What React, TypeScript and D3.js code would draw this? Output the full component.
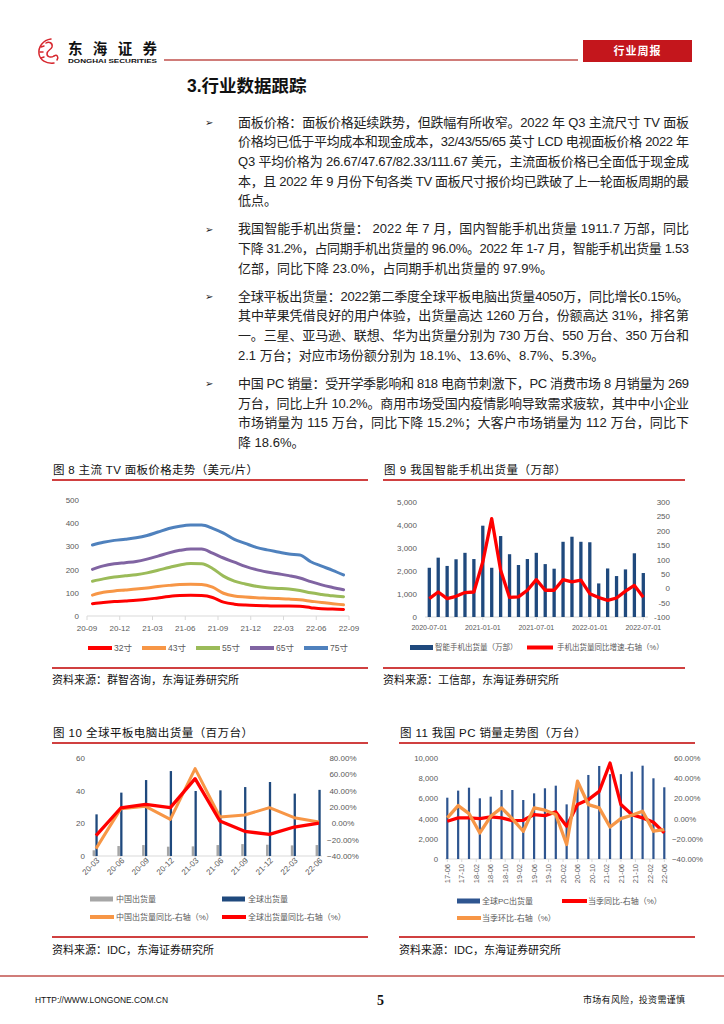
import React from "react";
import * as d3 from "d3";

const SANS = "'Liberation Sans', Arial, 'Noto Sans CJK SC', sans-serif";
const CJK = "'Noto Sans CJK SC', 'Liberation Sans', sans-serif";
const GRAY = "#595959";
const AXIS = "#D9D9D9";
const TITLE_RED = "#C00000";

// ---------------- body text ----------------
const para1 = [
  "面板价格：面板价格延续跌势，但跌幅有所收窄。2022 年 Q3 主流尺寸 TV 面板",
  "价格均已低于平均成本和现金成本，32/43/55/65 英寸 LCD 电视面板价格 2022 年",
  "Q3 平均价格为 26.67/47.67/82.33/111.67 美元，主流面板价格已全面低于现金成",
  "本，且 2022 年 9 月份下旬各类 TV 面板尺寸报价均已跌破了上一轮面板周期的最",
  "低点。",
];
const para2 = [
  "我国智能手机出货量： 2022 年 7 月，国内智能手机出货量 1911.7 万部，同比",
  "下降 31.2%，占同期手机出货量的 96.0%。2022 年 1-7 月，智能手机出货量 1.53",
  "亿部，同比下降 23.0%，占同期手机出货量的 97.9%。",
];
const para3 = [
  "全球平板出货量：2022第二季度全球平板电脑出货量4050万，同比增长0.15%。",
  "其中苹果凭借良好的用户体验，出货量高达 1260 万台，份额高达 31%，排名第",
  "一。三星、亚马逊、联想、华为出货量分别为 730 万台、550 万台、350 万台和",
  "2.1 万台；对应市场份额分别为 18.1%、13.6%、8.7%、5.3%。",
];
const para4 = [
  "中国 PC 销量：受开学季影响和 818 电商节刺激下，PC 消费市场 8 月销量为 269",
  "万台，同比上升 10.2%。商用市场受国内疫情影响导致需求疲软，其中中小企业",
  "市场销量为 115 万台，同比下降 15.2%；大客户市场销量为 112 万台，同比下",
  "降 18.6%。",
];

// ---------------- chart 8: TV panel prices ----------------
const tvMonths = [
  "2020-09", "2020-10", "2020-11", "2020-12", "2021-01", "2021-02", "2021-03", "2021-04",
  "2021-05", "2021-06", "2021-07", "2021-08", "2021-09", "2021-10", "2021-11", "2021-12",
  "2022-01", "2022-02", "2022-03", "2022-04", "2022-05", "2022-06", "2022-07", "2022-08",
];
const tvTickLabels = ["20-09", "20-12", "21-03", "21-06", "21-09", "21-12", "22-03", "22-06", "22-09"];
const tvYTicks = [0, 100, 200, 300, 400, 500];
const tvSizes = ["32寸", "43寸", "55寸", "65寸", "75寸"];
const tv32 = [53, 58, 62, 65, 68, 72, 78, 84, 88, 89, 88, 80, 60, 51, 47, 45, 44, 43, 43, 42, 36, 31, 30, 28];
const tv43 = [90, 102, 108, 112, 116, 121, 127, 132, 136, 137, 136, 124, 98, 86, 82, 79, 77, 75, 73, 70, 64, 58, 53, 48];
const tv55 = [150, 160, 168, 173, 178, 186, 197, 209, 220, 226, 225, 205, 172, 150, 138, 128, 122, 119, 116, 110, 100, 93, 87, 83];
const tv65 = [201, 216, 225, 230, 235, 245, 258, 272, 283, 289, 289, 271, 250, 232, 214, 200, 190, 182, 174, 164, 148, 134, 123, 113];
const tv75 = [306, 318, 326, 331, 337, 347, 362, 377, 387, 392, 392, 378, 357, 330, 313, 296, 285, 276, 267, 263, 234, 215, 197, 177];

// ---------------- chart 9: smartphone shipments ----------------
const phoneMonths = [
  "2020-07", "2020-08", "2020-09", "2020-10", "2020-11", "2020-12", "2021-01", "2021-02", "2021-03",
  "2021-04", "2021-05", "2021-06", "2021-07", "2021-08", "2021-09", "2021-10", "2021-11", "2021-12",
  "2022-01", "2022-02", "2022-03", "2022-04", "2022-05", "2022-06", "2022-07",
];
const phoneTickLabels = ["2020-07-01", "2021-01-01", "2021-07-01", "2022-01-01", "2022-07-01"];
const phoneLeftTicks = [0, 1000, 2000, 3000, 4000, 5000];
const phoneRightTicks = [-100, -50, 0, 50, 100, 150, 200, 250, 300];
const phoneShip = [2140, 2580, 2220, 2510, 2790, 2520, 3970, 2140, 3520, 2730, 2260, 2520, 2790, 2300, 2100, 3270, 3490, 3270, 3250, 1460, 2110, 1780, 2070, 2770, 1912];
const phoneYoY = [-36, -13, -36, -28, -15, -13, 92, 242, 63, -32, -30, -7, 30, -7, -7, 30, 22, 28, -19, -32, -42, -34, -10, 10, -31];
const phoneLegend = ["智能手机出货量（万部）", "手机出货量同比增速-右轴（%）"];

// ---------------- chart 10: tablets ----------------
const tabQuarters = ["20-03", "20-06", "20-09", "20-12", "21-03", "21-06", "21-09", "21-12", "22-03", "22-06"];
const tabLeftTicks = [0, 20, 40, 60];
const tabRightTicks = [-0.4, -0.2, 0, 0.2, 0.4, 0.6, 0.8];
const tabChina = [3.5, 6.1, 6.7, 5.7, 5.9, 6.7, 7.3, 6.9, 6.5, 6.7];
const tabGlobal = [25.5, 38.8, 46.5, 52.0, 39.8, 40.2, 42.2, 45.3, 38.2, 40.5];
const tabChinaYoY = [-0.31, 0.18, 0.208, 0.049, 0.67, 0.078, 0.102, 0.192, 0.069, 0.016];
const tabGlobalYoY = [-0.15, 0.188, 0.233, 0.192, 0.547, 0.029, -0.098, -0.135, -0.045, 0.0015];
const tabLegend = ["中国出货量", "全球出货量", "中国出货量同比-右轴（%）", "全球出货量同比-右轴（%）"];

// ---------------- chart 11: PC ----------------
const pcQuarters = [
  "2017-06", "2017-09", "2017-12", "2018-03", "2018-06", "2018-09", "2018-12", "2019-03", "2019-06",
  "2019-09", "2019-12", "2020-03", "2020-06", "2020-09", "2020-12", "2021-03", "2021-06", "2021-09",
  "2021-12", "2022-03", "2022-06",
];
const pcTickLabels = ["17-06", "17-10", "18-02", "18-06", "18-10", "19-02", "19-06", "19-10", "20-02", "20-06", "20-10", "21-02", "21-06", "21-10", "22-02", "22-06"];
const pcLeftTicks = [0, 2000, 4000, 6000, 8000, 10000];
const pcRightTicks = [-0.4, -0.2, 0, 0.2, 0.4, 0.6];
const pcShip = [6070, 6770, 7060, 6010, 6170, 6830, 6830, 5840, 6500, 7000, 7260, 5410, 7200, 8320, 9210, 8400, 8400, 8650, 9240, 7990, 7100];
const pcYoY = [-0.026, 0.007, 0.007, 0.0, 0.017, 0.007, -0.02, -0.017, 0.04, 0.03, 0.066, -0.076, 0.139, 0.188, 0.27, 0.55, 0.139, 0.04, 0.007, -0.036, -0.142];
const pcQoQ = [0.007, 0.129, 0.05, -0.142, 0.023, 0.106, -0.003, -0.125, 0.106, 0.083, 0.04, -0.257, 0.37, 0.139, 0.106, -0.083, 0.0, 0.033, 0.073, -0.125, -0.109];
const pcLegend = ["全球PC出货量", "当季同比-右轴（%）", "当季环比-右轴（%）"];

const fmtThousands = d3.format(",");
const fmtPct = (v: number) => d3.format(".2f")(v * 100) + "%";
const monthIndex = (s: string, base: string) => {
  const [y, m] = s.split("-").map(Number);
  const [by, bm] = base.split("-").map(Number);
  const yy = y < 100 ? 2000 + y : y;
  const bb = by < 100 ? 2000 + by : by;
  return (yy - bb) * 12 + (m - bm);
};

// ---------------- pieces ----------------
function Header() {
  return (
    <g>
      <g fill="none" stroke="#D7282F" strokeWidth={1.5} strokeLinecap="round">
        <path d="M51 39 C43 40 38 47 39 54 C40 60 46 64 54 63" />
        <path d="M46 43 C49 41 53 43 52 47 C51 50 47 50 47 54 C47 57 51 58 54 56" />
        <path d="M54 56 C57 54 59 57 57 60" />
        <path d="M41 47 L44 46 M40 52 L43 52 M41 58 L44 57" />
      </g>
      <text x={68} y={53.5} fontFamily={CJK} fontWeight={700} fontSize={14.5} textLength={89} lengthAdjust="spacing" fill="#111">东海证券</text>
      <text x={68} y={63} fontWeight={700} fontSize={5.4} textLength={89} lengthAdjust="spacingAndGlyphs" fill="#111">DONGHAI SECURITIES</text>
      <line x1={164} x2={578} y1={60} y2={60} stroke="#C0504D" strokeWidth={1.3} />
      <rect x={583} y={40} width={109} height={22} fill="#C4161C" />
      <text x={637.5} y={55} textAnchor="middle" fontFamily={CJK} fontSize={11} fontWeight={700} fill="#fff" letterSpacing={1}>行业周报</text>
      <text x={187} y={92} fontFamily={SANS} fontWeight={700} fontSize={17.5} fill="#111">3.行业数据跟踪</text>
    </g>
  );
}

function Body() {
  const paras = [para1, para2, para3, para4];
  const L = 19.7;
  const G = 28;
  let y = 122;
  const out: JSX.Element[] = [];
  paras.forEach((p, pi) => {
    p.forEach((line, li) => {
      const last = li === p.length - 1;
      if (li === 0) {
        out.push(
          <text key={`b${pi}`} x={205} y={y + 4} fontFamily="'DejaVu Sans', sans-serif" fontSize={10} fill="#222">➢</text>
        );
      }
      out.push(
        <text
          key={`t${pi}-${li}`}
          x={238}
          y={y + 4.5}
          fontSize={13}
          fill="#222"
          {...(last ? {} : { textLength: 451, lengthAdjust: "spacing" })}
        >
          {line}
        </text>
      );
      if (!last) y += L;
    });
    y += G;
  });
  return <g fontFamily={SANS}>{out}</g>;
}

function ChartFrame({ x1, x2, yTitle, ySep, ySrc, title, titleLen, source }: any) {
  return (
    <g>
      <text x={x1 + 1} y={yTitle + 4} fontFamily={SANS} fontSize={11.5} fill="#111" textLength={titleLen} lengthAdjust="spacing">{title}</text>
      <line x1={x1} x2={x2} y1={yTitle + 10} y2={yTitle + 10} stroke={TITLE_RED} strokeWidth={1.6} />
      <line x1={x1} x2={x2} y1={ySep} y2={ySep} stroke={TITLE_RED} strokeWidth={1.6} />
      <text x={x1} y={ySrc + 4} fontFamily={SANS} fontSize={11} fill="#111">{source}</text>
    </g>
  );
}

function TvChart() {
  const x = d3.scaleLinear().domain([0, tvMonths.length]).range([87, 349]);
  const y = d3.scaleLinear().domain([0, 500]).range([616, 500]);
  const line = d3
    .line<number>()
    .x((_, i) => x(i + 0.5))
    .y((d) => y(d))
    .curve(d3.curveMonotoneX);
  const series = [tv32, tv43, tv55, tv65, tv75];
  const colors = ["#FF0000", "#F79646", "#9BBB59", "#8064A2", "#4F81BD"];
  const legendX = [88, 142, 196, 250, 304];
  return (
    <g>
      <ChartFrame x1={52} x2={368} yTitle={470} ySep={668} ySrc={680} title="图 8 主流 TV 面板价格走势（美元/片）" titleLen={205} source="资料来源：群智咨询，东海证券研究所" />
      {tvYTicks.map((t) => (
        <text key={t} x={79} y={y(t) + 3} textAnchor="end" fontSize={8} fill={GRAY}>{t}</text>
      ))}
      <line x1={x(0)} x2={x(tvMonths.length)} y1={y(0)} y2={y(0)} stroke={AXIS} strokeWidth={1} />
      {tvTickLabels.map((t, k) => (
        <g key={t}>
          <line x1={x(3 * k)} x2={x(3 * k)} y1={y(0)} y2={y(0) + 4} stroke={AXIS} />
          <text x={x(3 * k)} y={631} textAnchor="middle" fontSize={8} fill={GRAY}>{t}</text>
        </g>
      ))}
      {series.map((s, i) => (
        <path key={i} d={line(s) || ""} fill="none" stroke={colors[i]} strokeWidth={3} strokeLinejoin="round" strokeLinecap="round" />
      ))}
      {tvSizes.map((name, i) => (
        <g key={name}>
          <line x1={legendX[i]} x2={legendX[i] + 24} y1={648} y2={648} stroke={colors[i]} strokeWidth={4} />
          <text x={legendX[i] + 26} y={651} fontSize={8.5} fill={GRAY}>{name}</text>
        </g>
      ))}
    </g>
  );
}

function PhoneChart() {
  const x = d3.scaleLinear().domain([0, phoneMonths.length - 1]).range([429.3, 643.3]);
  const yL = d3.scaleLinear().domain([0, 5000]).range([617, 502]);
  const yR = d3.scaleLinear().domain([-100, 300]).range([617, 502]);
  const line = d3
    .line<number>()
    .x((_, i) => x(i))
    .y((d) => yR(d));
  return (
    <g>
      <ChartFrame x1={383} x2={685} yTitle={470} ySep={668} ySrc={680} title="图 9 我国智能手机出货量（万部）" titleLen={182} source="资料来源：工信部，东海证券研究所" />
      {phoneLeftTicks.map((t) => (
        <text key={t} x={417} y={yL(t) + 3} textAnchor="end" fontSize={8} fill={GRAY}>{fmtThousands(t)}</text>
      ))}
      {phoneRightTicks.map((t) => (
        <text key={t} x={670} y={yR(t) + 3} textAnchor="end" fontSize={8} fill={GRAY}>{t}</text>
      ))}
      <line x1={425} x2={648} y1={yL(0)} y2={yL(0)} stroke={AXIS} />
      {phoneTickLabels.map((t) => {
        const xi = x(phoneMonths.indexOf(t.slice(0, 7)));
        return (
          <g key={t}>
            <line x1={xi} x2={xi} y1={yL(0)} y2={yL(0) + 3} stroke={AXIS} />
            <text x={xi} y={630} textAnchor="middle" fontSize={7} fill={GRAY}>{t}</text>
          </g>
        );
      })}
      {phoneShip.map((v, i) => (
        <rect key={i} x={x(i) - 1.65} width={3.3} y={yL(v)} height={yL(0) - yL(v)} fill="#1F497D" />
      ))}
      <path d={line(phoneYoY) || ""} fill="none" stroke="#FF0000" strokeWidth={3.3} strokeLinejoin="round" />
      <rect x={410} y={645} width={23} height={5} fill="#1F497D" />
      <text x={435} y={650} fontSize={7.5} fill={GRAY}>{phoneLegend[0]}</text>
      <line x1={527} x2={553} y1={647.5} y2={647.5} stroke="#FF0000" strokeWidth={4} />
      <text x={557} y={650} fontSize={7.5} fill={GRAY}>{phoneLegend[1]}</text>
    </g>
  );
}

function TabletChart() {
  const x = d3.scalePoint<string>().domain(tabQuarters).range([96, 319]);
  const yL = d3.scaleLinear().domain([0, 60]).range([856, 758]);
  const yR = d3.scaleLinear().domain([-0.4, 0.8]).range([856, 758]);
  const line = d3
    .line<number>()
    .x((_, i) => x(tabQuarters[i]) as number)
    .y((d) => yR(d));
  return (
    <g>
      <ChartFrame x1={52} x2={368} yTitle={733} ySep={937} ySrc={950} title="图 10 全球平板电脑出货量（百万台）" titleLen={200} source="资料来源：IDC，东海证券研究所" />
      {tabLeftTicks.map((t) => (
        <text key={t} x={85} y={yL(t) + 3} textAnchor="end" fontSize={8} fill={GRAY}>{t}</text>
      ))}
      {tabRightTicks.map((t) => (
        <text key={t} x={343} y={yR(t) + 3} textAnchor="middle" fontSize={8} fill={GRAY}>{fmtPct(t)}</text>
      ))}
      <line x1={93} x2={322} y1={yL(0)} y2={yL(0)} stroke={AXIS} />
      {tabQuarters.map((q) => {
        const c = x(q) as number;
        return (
          <g key={q}>
            <line x1={c} x2={c} y1={yL(0)} y2={yL(0) + 3} stroke={AXIS} />
            <text transform={`translate(${c + 4},${861}) rotate(-45)`} textAnchor="end" fontSize={8} fill={GRAY}>{q}</text>
          </g>
        );
      })}
      {tabChina.map((v, i) => {
        const c = x(tabQuarters[i]) as number;
        return <rect key={`c${i}`} x={c - 3.4} width={2.5} y={yL(v)} height={yL(0) - yL(v)} fill="#A6A6A6" />;
      })}
      {tabGlobal.map((v, i) => {
        const c = x(tabQuarters[i]) as number;
        return <rect key={`g${i}`} x={c - 0.6} width={2.3} y={yL(v)} height={yL(0) - yL(v)} fill="#1F497D" />;
      })}
      <path d={line(tabChinaYoY) || ""} fill="none" stroke="#F79646" strokeWidth={3} strokeLinejoin="round" />
      <path d={line(tabGlobalYoY) || ""} fill="none" stroke="#FF0000" strokeWidth={3.3} strokeLinejoin="round" />
      <rect x={90} y={896.5} width={23} height={5} fill="#A6A6A6" />
      <text x={116} y={902} fontSize={8} fill={GRAY}>{tabLegend[0]}</text>
      <rect x={222} y={896.5} width={23} height={5} fill="#1F497D" />
      <text x={248} y={902} fontSize={8} fill={GRAY}>{tabLegend[1]}</text>
      <line x1={90} x2={114} y1={917} y2={917} stroke="#F79646" strokeWidth={4} />
      <text x={116} y={920} fontSize={8} fill={GRAY}>{tabLegend[2]}</text>
      <line x1={222} x2={246} y1={917} y2={917} stroke="#FF0000" strokeWidth={4} />
      <text x={248} y={920} fontSize={8} fill={GRAY}>{tabLegend[3]}</text>
    </g>
  );
}

function PcChart() {
  const base = pcQuarters[0];
  const span = monthIndex(pcQuarters[pcQuarters.length - 1], base);
  const x = d3.scaleLinear().domain([0, span]).range([447.3, 664.3]);
  const yL = d3.scaleLinear().domain([0, 10000]).range([859, 758]);
  const yR = d3.scaleLinear().domain([-0.4, 0.6]).range([859, 758]);
  const line = d3
    .line<number>()
    .x((_, i) => x(monthIndex(pcQuarters[i], base)))
    .y((d) => yR(d));
  return (
    <g>
      <ChartFrame x1={399} x2={695} yTitle={733} ySep={937} ySrc={950} title="图 11 我国 PC 销量走势图（万台）" titleLen={186} source="资料来源：IDC，东海证券研究所" />
      {pcLeftTicks.map((t) => (
        <text key={t} x={438} y={yL(t) + 3} textAnchor="end" fontSize={7.8} fill={GRAY}>{fmtThousands(t)}</text>
      ))}
      {pcRightTicks.map((t) => (
        <text key={t} x={t < 0 ? 672 : 674} y={yR(t) + 3} fontSize={7.8} fill={GRAY}>{fmtPct(t)}</text>
      ))}
      <line x1={445} x2={667} y1={yL(0)} y2={yL(0)} stroke={AXIS} />
      {pcTickLabels.map((t) => {
        const xi = x(monthIndex(t, "17-06"));
        return (
          <g key={t}>
            <line x1={xi} x2={xi} y1={yL(0)} y2={yL(0) + 3} stroke={AXIS} />
            <text transform={`translate(${xi + 2.7},${864}) rotate(-90)`} textAnchor="end" fontSize={7.5} fill={GRAY}>{t}</text>
          </g>
        );
      })}
      {pcShip.map((v, i) => {
        const xi = x(monthIndex(pcQuarters[i], base));
        return <rect key={i} x={xi - 1.1} width={2.2} y={yL(v)} height={yL(0) - yL(v)} fill="#2E5590" />;
      })}
      <path d={line(pcYoY) || ""} fill="none" stroke="#FF0000" strokeWidth={3.3} strokeLinejoin="round" />
      <path d={line(pcQoQ) || ""} fill="none" stroke="#F79646" strokeWidth={3.3} strokeLinejoin="round" />
      <rect x={457} y={898.5} width={23} height={5} fill="#2E5590" />
      <text x={482} y={904} fontSize={8} fill={GRAY}>{pcLegend[0]}</text>
      <line x1={562} x2={587} y1={901} y2={901} stroke="#FF0000" strokeWidth={4} />
      <text x={588} y={904} fontSize={8} fill={GRAY}>{pcLegend[1]}</text>
      <line x1={457} x2={481} y1={918} y2={918} stroke="#F79646" strokeWidth={4} />
      <text x={482} y={921} fontSize={8} fill={GRAY}>{pcLegend[2]}</text>
    </g>
  );
}

function Footer() {
  return (
    <g>
      <line x1={0} x2={724} y1={976} y2={976} stroke="#C0504D" strokeWidth={1.5} />
      <text x={35} y={1003} fontSize={9.5} fill="#111" textLength={133} lengthAdjust="spacingAndGlyphs">HTTP://WWW.LONGONE.COM.CN</text>
      <text x={377} y={1005} fontFamily="'Liberation Serif', serif" fontWeight={700} fontSize={14} fill="#111">5</text>
      <text x={583} y={1003} fontFamily={CJK} fontSize={9} fill="#111" textLength={102} lengthAdjust="spacing">市场有风险，投资需谨慎</text>
    </g>
  );
}

export default function App() {
  return (
    <svg
      width={724}
      height={1024}
      viewBox="0 0 724 1024"
      style={{ position: "absolute", left: 0, top: 0, display: "block", background: "#fff" }}
      fontFamily={SANS}
    >
      <rect width={724} height={1024} fill="#fff" />
      <Header />
      <Body />
      <TvChart />
      <PhoneChart />
      <TabletChart />
      <PcChart />
      <Footer />
    </svg>
  );
}
